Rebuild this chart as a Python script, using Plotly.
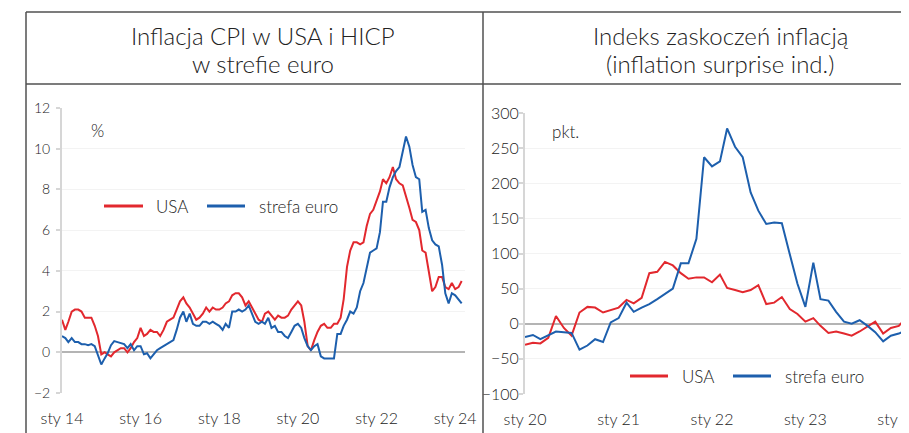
import pandas as pd
import plotly.graph_objects as go

W, H = 909, 433
OFF = 8  # page body margin of the browser: figure is drawn 8 px right/down

# ---------------- data ----------------
cpi_dates = pd.date_range("2014-01-01", periods=123, freq="MS")
usa_cpi = [
    1.6, 1.1, 1.5, 2.0, 2.1, 2.1, 2.0, 1.7, 1.7, 1.7, 1.3, 0.8,
    -0.1, 0.0, -0.1, -0.2, 0.0, 0.1, 0.2, 0.2, 0.0, 0.2, 0.5, 0.7,
    1.2, 0.8, 0.9, 1.1, 1.0, 1.0, 0.8, 1.1, 1.5, 1.6, 1.7, 2.1,
    2.5, 2.7, 2.4, 2.2, 1.9, 1.6, 1.7, 1.9, 2.2, 2.0, 2.2, 2.1,
    2.1, 2.2, 2.4, 2.5, 2.8, 2.9, 2.9, 2.7, 2.3, 2.5, 2.2, 1.9,
    1.6, 1.5, 1.9, 2.0, 1.8, 1.6, 1.8, 1.7, 1.7, 1.8, 2.1, 2.3,
    2.5, 2.3, 1.5, 0.3, 0.1, 0.6, 1.0, 1.3, 1.4, 1.2, 1.2, 1.4,
    1.4, 1.7, 2.6, 4.2, 5.0, 5.4, 5.4, 5.3, 5.4, 6.2, 6.8, 7.0,
    7.5, 7.9, 8.5, 8.3, 8.6, 9.1, 8.5, 8.3, 8.2, 7.7, 7.1, 6.5,
    6.4, 6.0, 5.0, 4.9, 4.0, 3.0, 3.2, 3.7, 3.7, 3.2, 3.1, 3.4,
    3.1, 3.2, 3.5,
]
euro_hicp = [
    0.8, 0.7, 0.5, 0.7, 0.5, 0.5, 0.4, 0.4, 0.35, 0.4, 0.3, -0.2,
    -0.6, -0.3, -0.05, 0.35, 0.55, 0.5, 0.45, 0.4, 0.2, 0.4, 0.1, 0.3,
    0.3, -0.1, -0.05, -0.3, -0.1, 0.1, 0.2, 0.3, 0.4, 0.5, 0.6, 1.1,
    1.7, 2.0, 1.5, 1.9, 1.4, 1.3, 1.3, 1.5, 1.5, 1.4, 1.5, 1.4,
    1.3, 1.1, 1.4, 1.2, 2.0, 2.0, 2.1, 2.0, 2.1, 2.3, 1.9, 1.5,
    1.4, 1.5, 1.4, 1.7, 1.2, 1.3, 1.0, 1.0, 0.8, 0.7, 1.0, 1.3,
    1.4, 1.2, 0.7, 0.3, 0.1, 0.3, 0.4, -0.2, -0.3, -0.3, -0.3, -0.3,
    0.9, 0.9, 1.3, 1.6, 2.0, 1.9, 2.2, 3.0, 3.4, 4.1, 4.9, 5.0,
    5.1, 5.9, 7.4, 7.4, 8.1, 8.6, 8.9, 9.1, 9.9, 10.6, 10.1, 9.2,
    8.6, 8.5, 6.9, 7.0, 6.1, 5.5, 5.3, 5.2, 4.3, 2.9, 2.4, 2.9,
    2.8, 2.6, 2.4,
]

surprise_dates = pd.date_range("2020-01-01", periods=50, freq="MS")
usa_surprise = [
    -30, -27, -28, -20, 11, -6, -17, 16, 24, 23, 16, 20,
    23, 34, 29, 37, 72, 74, 88, 83, 72, 64, 66, 66,
    59, 70, 51, 48, 45, 48, 55, 28, 30, 38, 21, 14,
    3, 8, -3, -13, -11, -14, -17, -11, -4, 3, -14, -6,
    -3, 9,
]
euro_surprise = [
    -19, -16, -22, -16, -11, -12, -13, -37, -31, -22, -26, 2,
    8, 30, 17, 23, 28, 35, 43, 50, 86, 86, 121, 237,
    224, 231, 278, 252, 237, 187, 161, 142, 144, 143, 99, 57,
    24, 87, 35, 33, 17, 3, 0, 5, -3, -12, -25, -17,
    -14, -9,
]

left_tickvals = ["2014-01-01", "2016-01-01", "2018-01-01", "2020-01-01", "2022-01-01", "2024-01-01"]
left_ticktext = ["sty 14", "sty 16", "sty 18", "sty 20", "sty 22", "sty 24"]
left_year_ticks = [f"{y}-01-01" for y in range(2014, 2025)]
right_tickvals = ["2020-01-01", "2021-01-01", "2022-01-01", "2023-01-01", "2024-01-01"]
right_ticktext = ["sty 20", "sty 21", "sty 22", "sty 23", "sty 24"]

left_yticks = [-2, 0, 2, 4, 6, 8, 10, 12]
right_yticks = [-100, -50, 0, 50, 100, 150, 200, 250, 300]

# ---------------- styling ----------------
RED = "#e2282e"
BLUE = "#1d5fad"
TXT = "#222222"
FONT = "Lato"


def fx(px):
    return (px - OFF) / W


def fy(py):
    return 1 - (py - OFF) / H


L_X0, L_X1 = 62, 465
L_Y0, L_Y1 = 108, 393
R_X0, R_X1 = 525, 909
R_Y0, R_Y1 = 113, 394
L_YR = [-2, 12]
R_YR = [-100, 300]
L_XR = ["2014-01-01", "2024-04-01"]
R_XR = ["2020-01-01", "2024-02-10"]

zero_left = fy(L_Y1 - (0 - L_YR[0]) / (L_YR[1] - L_YR[0]) * (L_Y1 - L_Y0))
zero_right = fy(R_Y1 - (0 - R_YR[0]) / (R_YR[1] - R_YR[0]) * (R_Y1 - R_Y0))

fig = go.Figure()
fig.add_trace(go.Scatter(x=cpi_dates, y=usa_cpi, mode="lines", line=dict(color=RED, width=2),
                         xaxis="x", yaxis="y", name="USA", showlegend=False))
fig.add_trace(go.Scatter(x=cpi_dates, y=euro_hicp, mode="lines", line=dict(color=BLUE, width=2),
                         xaxis="x", yaxis="y", name="strefa euro", showlegend=False))
fig.add_trace(go.Scatter(x=surprise_dates, y=usa_surprise, mode="lines", line=dict(color=RED, width=2),
                         xaxis="x2", yaxis="y2", name="USA", showlegend=False))
fig.add_trace(go.Scatter(x=surprise_dates, y=euro_surprise, mode="lines", line=dict(color=BLUE, width=2),
                         xaxis="x2", yaxis="y2", name="strefa euro", showlegend=False))

tickfont_x = dict(family=FONT, size=16, color=TXT, weight=300)

common_y = dict(showline=True, linecolor="#d6d6d6", linewidth=2, ticks="outside", ticklen=4,
                tickcolor="#d6d6d6", tickwidth=1.5, showgrid=True, gridcolor="#f3f3f3",
                zeroline=True, zerolinecolor="#b4b4b4", zerolinewidth=1.5, fixedrange=True,
                automargin=False, ticklabeloverflow="allow")

fig.update_layout(
    width=W, height=H,
    margin=dict(l=0, r=0, t=0, b=0, pad=0, autoexpand=False),
    paper_bgcolor="white", plot_bgcolor="white",
    showlegend=False,
    xaxis=dict(domain=[fx(L_X0), fx(L_X1)], anchor="y", range=L_XR, type="date",
               tickvals=left_tickvals, ticktext=left_ticktext, ticks="", showgrid=False,
               showline=False, zeroline=False, tickfont=tickfont_x, ticklabelstandoff=14,
               automargin=False, ticklabeloverflow="allow"),
    yaxis=dict(domain=[fy(L_Y1), fy(L_Y0)], anchor="x", range=L_YR, tickvals=left_yticks,
               tickfont=dict(family=FONT, size=14, color=TXT, weight=300), ticklabelstandoff=3,
               **common_y),
    xaxis2=dict(domain=[fx(R_X0), fx(R_X1)], anchor="y2", range=R_XR, type="date",
                tickvals=right_tickvals, ticktext=right_ticktext, ticks="", showgrid=False,
                showline=False, zeroline=False, tickfont=tickfont_x, ticklabelstandoff=14,
                automargin=False, ticklabeloverflow="allow"),
    yaxis2=dict(domain=[fy(R_Y1), fy(R_Y0)], anchor="x2", range=R_YR, tickvals=right_yticks,
                tickfont=dict(family=FONT, size=16, color=TXT, weight=300), ticklabelstandoff=-3,
                **common_y),
    xaxis3=dict(overlaying="x", anchor="free", position=zero_left, domain=[fx(L_X0), fx(L_X1)],
                range=L_XR, type="date", tickvals=left_year_ticks, showticklabels=False,
                ticks="outside", ticklen=4, tickcolor="#b4b4b4", tickwidth=1.2,
                showgrid=False, showline=False, zeroline=False, automargin=False),
    xaxis4=dict(overlaying="x2", anchor="free", position=zero_right, domain=[fx(R_X0), fx(R_X1)],
                range=R_XR, type="date", tickvals=right_tickvals, showticklabels=False,
                ticks="outside", ticklen=4, tickcolor="#b4b4b4", tickwidth=1.2,
                showgrid=False, showline=False, zeroline=False, automargin=False),
)

# frame lines
BORDER = dict(color="#505050", width=1.5)
shapes = [
    dict(type="line", xref="paper", yref="paper", x0=fx(26), x1=fx(909), y0=fy(12), y1=fy(12), line=BORDER),
    dict(type="line", xref="paper", yref="paper", x0=fx(26), x1=fx(909), y0=fy(84), y1=fy(84), line=BORDER),
    dict(type="line", xref="paper", yref="paper", x0=fx(26), x1=fx(26), y0=fy(12), y1=fy(433), line=BORDER),
    dict(type="line", xref="paper", yref="paper", x0=fx(483), x1=fx(483), y0=fy(12), y1=fy(433), line=BORDER),
]
# legend keys
for (x0, x1, y, c) in [(104, 143, 206, RED), (207, 245, 206, BLUE), (630, 668, 376, RED), (733, 771, 376, BLUE)]:
    shapes.append(dict(type="line", xref="paper", yref="paper", x0=fx(x0), x1=fx(x1), y0=fy(y), y1=fy(y),
                       line=dict(color=c, width=3)))
fig.update_layout(shapes=shapes)


def ann(text, x, y, size, xanchor="center", weight=300):
    return dict(text=text, x=fx(x), y=fy(y), xref="paper", yref="paper", showarrow=False,
                xanchor=xanchor, yanchor="middle",
                font=dict(family=FONT, size=size, color=TXT, weight=weight))


annotations = [
    ann("Inflacja CPI w USA i HICP", 263, 35, 24),
    ann("w strefie euro", 263, 64, 24),
    ann("Indeks zaskoczeń inflacją", 721, 35, 24),
    ann("(inflation surprise ind.)", 720, 64, 24),
    ann("%", 89, 130, 17, "left"),
    ann("pkt.", 550, 131, 17, "left"),
    ann("USA", 154, 206, 17, "left"),
    ann("strefa euro", 257, 206, 17, "left"),
    ann("USA", 680, 376, 17, "left"),
    ann("strefa euro", 783, 376, 17, "left"),
]
fig.update_layout(annotations=annotations)

fig.write_html("out.html")
